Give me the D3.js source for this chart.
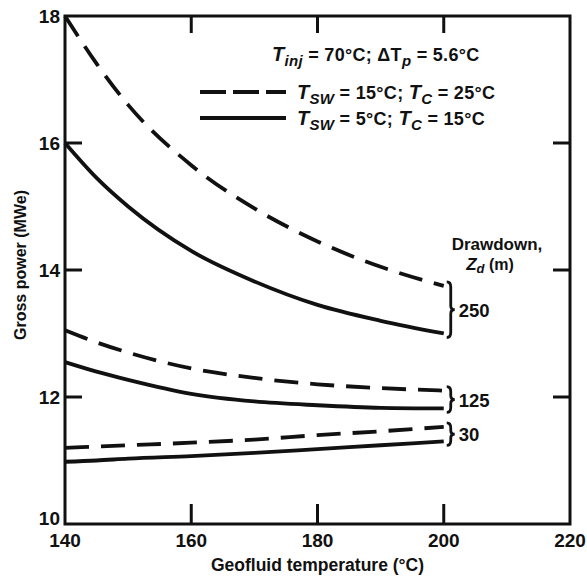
<!DOCTYPE html>
<html>
<head>
<meta charset="utf-8">
<script src="https://cdn.jsdelivr.net/npm/d3@7"></script>
<style>
  body { margin: 0; background: #fff; }
  text { font-family: "Liberation Sans", Arial, sans-serif; font-weight: bold; fill: #111; }
</style>
</head>
<body>
<div id="chart"></div>
<script>
// geofluid temperature (C)
var temps = [140, 145, 150, 160, 170, 180, 190, 200];

// gross power (MWe), dashed = T_SW 15C, solid = T_SW 5C
var dash250 = [18.0, 17.25, 16.6, 15.65, 14.97, 14.45, 14.05, 13.75];
var solid250 = [16.0, 15.45, 15.0, 14.3, 13.82, 13.45, 13.2, 13.0];
var dash125 = [13.05, 12.86, 12.7, 12.45, 12.3, 12.2, 12.14, 12.1];
var solid125 = [12.55, 12.4, 12.27, 12.05, 11.93, 11.87, 11.83, 11.82];
var dash30 = [11.2, 11.22, 11.24, 11.28, 11.33, 11.4, 11.46, 11.53];
var solid30 = [10.98, 11.0, 11.03, 11.07, 11.12, 11.18, 11.24, 11.3];

var drawdowns = ["250", "125", "30"];
var xTicks = [140, 160, 180, 200, 220];
var yTicks = [10, 12, 14, 16, 18];

var margin = {top: 16, right: 17, bottom: 54, left: 65},
    width = 587 - margin.left - margin.right,
    height = 578 - margin.top - margin.bottom;

var svg = d3.select("#chart").append("svg")
    .attr("width", 587)
    .attr("height", 578);

var g = svg.append("g")
    .attr("transform", "translate(" + margin.left + "," + margin.top + ")");

var x = d3.scaleLinear().domain([140, 220]).range([0, width]);
var y = d3.scaleLinear().domain([10, 18]).range([height, 0]);

// frame
g.append("rect")
    .attr("width", width)
    .attr("height", height)
    .attr("fill", "none")
    .attr("stroke", "#111")
    .attr("stroke-width", 3);

// inner ticks on all four sides
var tl = 17;
var innerX = xTicks.slice(1, -1);
var innerY = yTicks.slice(1, -1);
innerX.forEach(function(t) {
    g.append("line").attr("x1", x(t)).attr("x2", x(t)).attr("y1", height).attr("y2", height - tl - 3)
        .attr("stroke", "#111").attr("stroke-width", 3);
    g.append("line").attr("x1", x(t)).attr("x2", x(t)).attr("y1", 0).attr("y2", tl)
        .attr("stroke", "#111").attr("stroke-width", 3);
});
innerY.forEach(function(t) {
    g.append("line").attr("x1", 0).attr("x2", tl).attr("y1", y(t)).attr("y2", y(t))
        .attr("stroke", "#111").attr("stroke-width", 3);
    g.append("line").attr("x1", width - tl).attr("x2", width).attr("y1", y(t)).attr("y2", y(t))
        .attr("stroke", "#111").attr("stroke-width", 3);
});

// tick labels
g.selectAll(".xl").data(xTicks).enter().append("text")
    .attr("x", function(d) { return x(d); })
    .attr("y", height + 23)
    .attr("text-anchor", "middle")
    .style("font-size", "19px")
    .text(function(d) { return d; });

g.selectAll(".yl").data(yTicks).enter().append("text")
    .attr("x", -5)
    .attr("y", function(d) { return d == 10 ? y(d) + 1 : y(d) + 7; })
    .attr("text-anchor", "end")
    .style("font-size", "19px")
    .text(function(d) { return d; });

// axis titles
g.append("text")
    .attr("x", x(180))
    .attr("y", height + 47)
    .attr("text-anchor", "middle")
    .style("font-size", "17.5px")
    .text("Geofluid temperature (°C)");

svg.append("text")
    .attr("transform", "translate(26,265) rotate(-90)")
    .attr("text-anchor", "middle")
    .style("font-size", "16px")
    .text("Gross power (MWe)");

// curves
var line = d3.line()
    .x(function(d, i) { return x(temps[i]); })
    .y(function(d) { return y(d); })
    .curve(d3.curveMonotoneX);

var series = [
    {v: dash250, dashed: true}, {v: solid250, dashed: false},
    {v: dash125, dashed: true}, {v: solid125, dashed: false},
    {v: dash30, dashed: true}, {v: solid30, dashed: false}
];

series.forEach(function(s) {
    g.append("path")
        .attr("d", line(s.v))
        .attr("fill", "none")
        .attr("stroke", "#111")
        .attr("stroke-width", 3.8)
        .attr("stroke-dasharray", s.dashed ? "24,12" : null);
});

// braces + drawdown labels
var pairs = [[dash250, solid250], [dash125, solid125], [dash30, solid30]];
pairs.forEach(function(p, i) {
    var y0 = y(p[0][p[0].length - 1]) - 4,
        y1 = y(p[1][p[1].length - 1]) + 4,
        xb = x(200) + 6,
        ym = (y0 + y1) / 2;
    g.append("path")
        .attr("d", "M" + (xb - 3) + "," + y0 +
            " Q" + (xb + 1) + "," + y0 + " " + (xb + 1) + "," + (y0 + 5) +
            " L" + (xb + 1) + "," + (ym - 4) +
            " Q" + (xb + 1) + "," + ym + " " + (xb + 5) + "," + ym +
            " Q" + (xb + 1) + "," + ym + " " + (xb + 1) + "," + (ym + 4) +
            " L" + (xb + 1) + "," + (y1 - 5) +
            " Q" + (xb + 1) + "," + y1 + " " + (xb - 3) + "," + y1)
        .attr("fill", "none")
        .attr("stroke", "#111")
        .attr("stroke-width", 2.8);
    g.append("text")
        .attr("x", xb + 9)
        .attr("y", ym + 7)
        .style("font-size", "18.5px")
        .text(drawdowns[i]);
});

g.append("text")
    .attr("x", 432)
    .attr("y", 234)
    .attr("text-anchor", "middle")
    .style("font-size", "17px")
    .text("Drawdown,");
var zd = g.append("text")
    .attr("x", 425)
    .attr("y", 254)
    .attr("text-anchor", "middle")
    .style("font-size", "16px");
zd.append("tspan").style("font-style", "italic").style("font-size", "17px").text("Z");
zd.append("tspan").style("font-style", "italic").style("font-size", "13px").attr("dy", 3).text("d");
zd.append("tspan").attr("dy", -3).text(" (m)");

// legend
function sub(t, main, s, rest) {
    t.append("tspan").style("font-style", "italic").style("font-size", "20px").text(main);
    t.append("tspan").style("font-style", "italic").style("font-size", "15px").attr("dy", 5).text(s);
    t.append("tspan").attr("dy", -5).text(rest);
}

var l1 = g.append("text").attr("x", 207).attr("y", 45).style("font-size", "18px").style("letter-spacing", "0.3px");
sub(l1, "T", "inj", " = 70°C; ΔT");
l1.append("tspan").style("font-style", "italic").style("font-size", "15px").attr("dy", 5).text("p");
l1.append("tspan").attr("dy", -5).text(" = 5.6°C");

var legendRows = [{dashed: true, tsw: "15", tc: "25", yy: 76}, {dashed: false, tsw: "5", tc: "15", yy: 102}];
legendRows.forEach(function(r) {
    g.append("line")
        .attr("x1", 135).attr("x2", 221)
        .attr("y1", r.yy).attr("y2", r.yy)
        .attr("stroke", "#111")
        .attr("stroke-width", 4)
        .attr("stroke-dasharray", r.dashed ? "26,7" : null);
    var t = g.append("text").attr("x", 232).attr("y", r.yy + 7).style("font-size", "18px").style("letter-spacing", "0.3px");
    sub(t, "T", "SW", " = " + r.tsw + "°C; ");
    sub(t, "T", "C", " = " + r.tc + "°C");
});
</script>
</body>
</html>
